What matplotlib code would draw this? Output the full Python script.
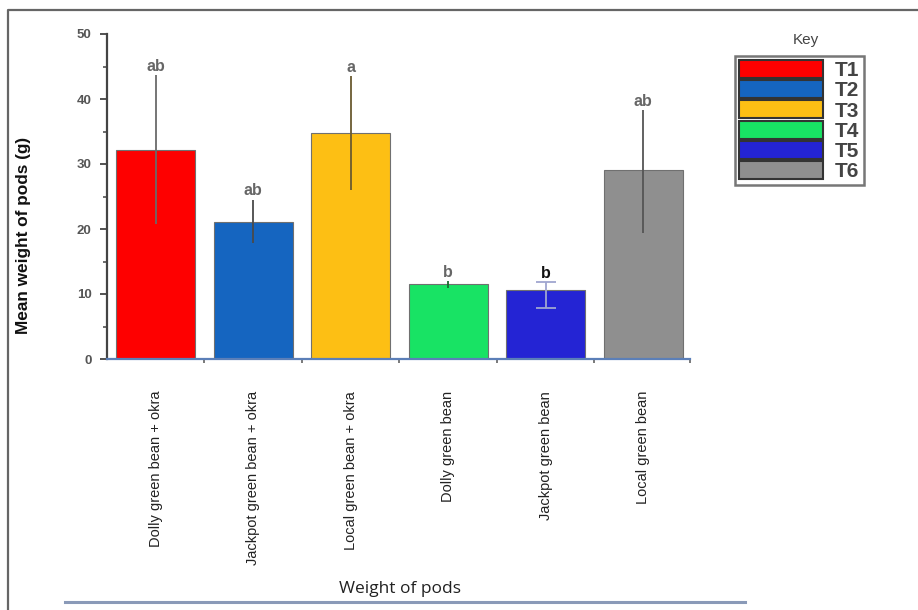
import matplotlib.pyplot as plt
from matplotlib.patches import Patch
from matplotlib.lines import Line2D

# Mean pod weight per treatment, with error bar extents and letter groups
treatments = ['Dolly green bean + okra', 'Jackpot green bean + okra', 'Local green bean + okra',
              'Dolly green bean', 'Jackpot green bean', 'Local green bean']
keys = ['T1', 'T2', 'T3', 'T4', 'T5', 'T6']
mean_weight = [32.2, 21.1, 34.8, 11.5, 10.6, 29.1]
err_low = [11.5, 3.3, 8.8, 0.6, 2.8, 9.7]
err_high = [11.5, 3.4, 8.7, 0.5, 1.2, 9.2]
letters = ['ab', 'ab', 'a', 'b', 'b', 'ab']

colors = ['#fe0000', '#1565c0', '#fdbf14', '#18e364', '#2424d4', '#8f8f8f']
letter_colors = ['#666666', '#666666', '#666666', '#666666', '#111111', '#666666']
ecolors = ['#6a6a6a', '#4a4a4a', '#6a5a30', '#1a6a30', '#a0a6d0', '#555555']
capsizes = [0, 0, 0, 0, 7, 0]

arial = ['Liberation Sans', 'DejaVu Sans']

fig = plt.figure(figsize=(9.18, 6.10), dpi=100)
ax = fig.add_axes([107 / 918, 1 - 359 / 610, (690 - 107) / 918, (359 - 34) / 610])

x = list(range(len(treatments)))
bars = ax.bar(x, mean_weight, width=0.81, color=colors, edgecolor='#707070', linewidth=0.8, zorder=2)

for i in x:
    ax.errorbar(i, mean_weight[i], yerr=[[err_low[i]], [err_high[i]]], fmt='none',
                ecolor=ecolors[i], elinewidth=1.3, capsize=capsizes[i], capthick=1.3, zorder=3)
    top = mean_weight[i] + err_high[i]
    ax.text(i, top + 0.2, letters[i], ha='center', va='bottom', fontsize=11.5,
            fontweight='bold', family=arial, color=letter_colors[i], zorder=4)

ax.set_xlim(-0.5, 5.48)
ax.set_ylim(0, 50)
ax.set_yticks(range(0, 51, 10))
ax.set_yticks(range(5, 50, 10), minor=True)
ax.tick_params(axis='y', which='major', length=5, width=1.3, colors='#444444',
               labelcolor='#555555', labelsize=9.5, pad=6)
ax.tick_params(axis='y', which='minor', length=3, width=1.1, color='#444444')
for lab in ax.get_yticklabels():
    lab.set_fontweight('bold')
    lab.set_family(arial)

ax.set_xticks(x)
ax.set_xticklabels(treatments, rotation=90, va='top', ha='center', fontsize=10.5,
                   family=arial, color='#222222')
ax.set_xticks([i + 0.5 for i in x[:-1]] + [5.48], minor=True)
ax.tick_params(axis='x', which='major', length=0, pad=23)
ax.tick_params(axis='x', which='minor', length=3, width=1.1, color='#555555')

for side in ['top', 'right']:
    ax.spines[side].set_visible(False)
ax.spines['left'].set_color('#444444')
ax.spines['left'].set_linewidth(1.6)
ax.spines['bottom'].set_color('#5b7fb8')
ax.spines['bottom'].set_linewidth(1.6)

ax.set_ylabel('Mean weight of pods (g)', fontsize=12.4, fontweight='bold',
              family=arial, color='#111111')
ax.yaxis.set_label_coords(-0.130, 0.38)

# Key panel at the right
handles = [Patch(facecolor=c, edgecolor='#333333', linewidth=1.5) for c in colors]
leg = fig.legend(handles, keys, loc='upper left', bbox_to_anchor=(735 / 918, 1 - 56 / 610),
                 handlelength=4.0, handleheight=0.95, handletextpad=0.6, labelspacing=0.0,
                 borderpad=0.2, borderaxespad=0, fancybox=False, frameon=True,
                 prop={'size': 15, 'weight': 'bold', 'family': arial})
leg.get_frame().set_edgecolor('#555555')
leg.get_frame().set_linewidth(1.8)
for t in leg.get_texts():
    t.set_color('#444444')
fig.text(806 / 918, 1 - 40 / 610, 'Key', ha='center', va='center', fontsize=11,
         family=arial, color='#444444')

# x-axis caption and the rules around the figure
fig.text(400 / 918, 1 - 589 / 610, 'Weight of pods', ha='center', va='center',
         fontsize=12.5, family=['Open Sans', 'DejaVu Sans'], color='#222222')
fig.add_artist(Line2D([65 / 918, 745 / 918], [1 - 602 / 610] * 2, color='#8a9ab8', lw=2.2))
fig.add_artist(Line2D([8 / 918, 8 / 918, 1.0], [0, 1 - 10 / 610, 1 - 10 / 610], color='#666666', lw=1.6))

fig.savefig('out.png', dpi=100)
